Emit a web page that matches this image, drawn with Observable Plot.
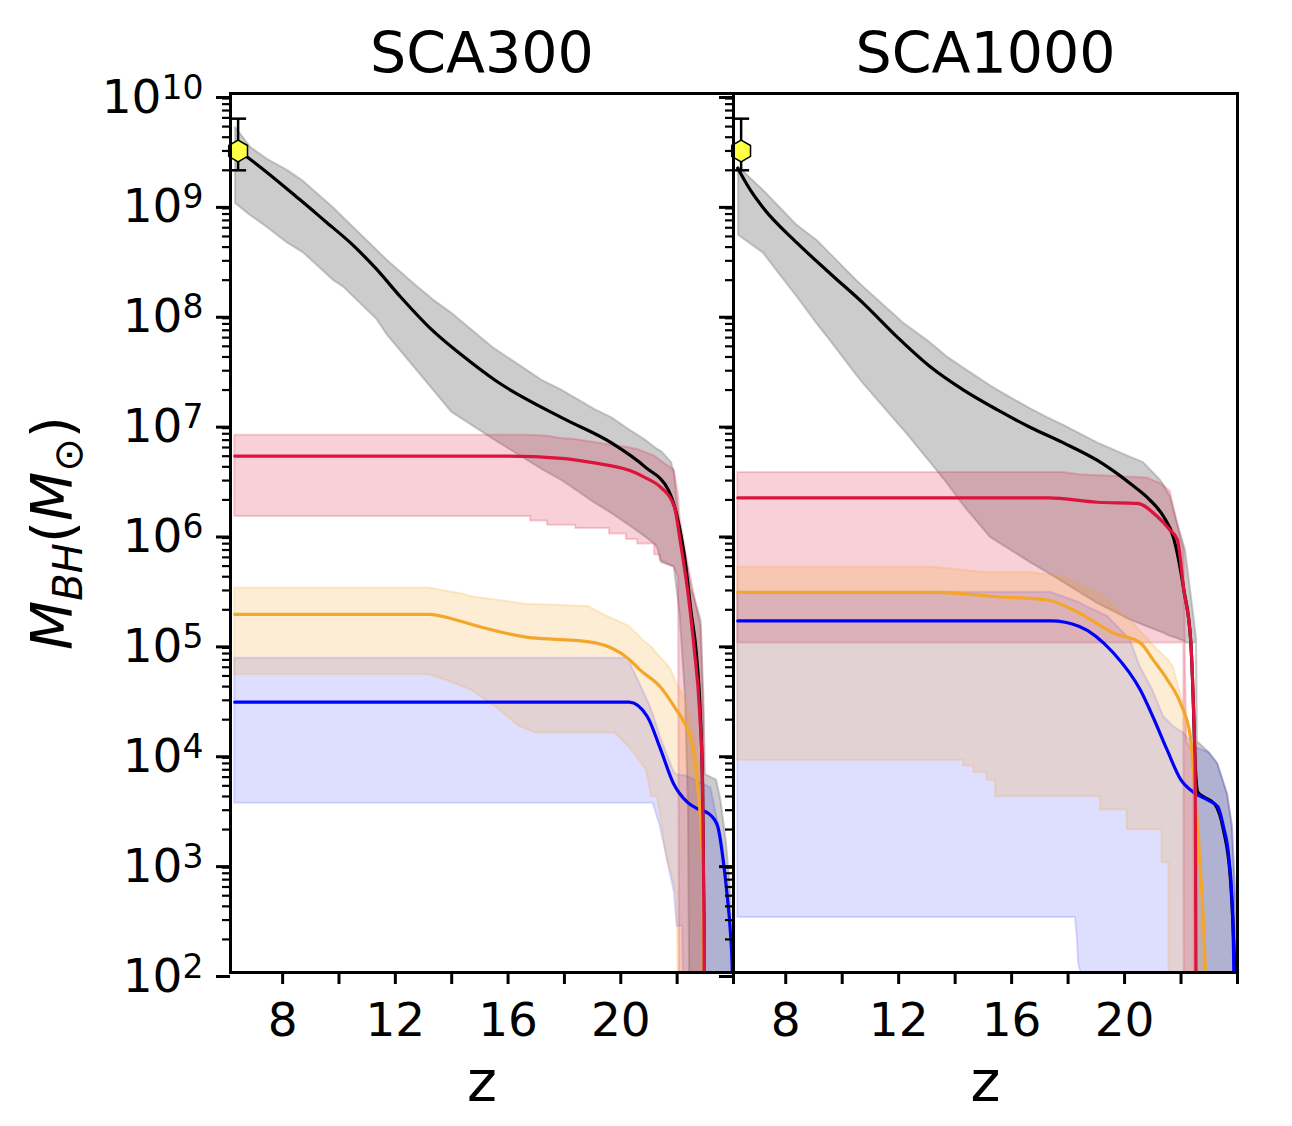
<!DOCTYPE html>
<html>
<head>
<meta charset="utf-8">
<script src="https://cdn.jsdelivr.net/npm/d3@7"></script>
<script src="https://cdn.jsdelivr.net/npm/@observablehq/plot@0.6"></script>
<style>
  body { margin: 0; background: white; }
  #chart { position: relative; width: 1292px; height: 1126px; font-family: "DejaVu Sans", sans-serif; }
  #chart svg { position: absolute; top: 0; }
</style>
</head>
<body>
<div id="chart"></div>
<script>
// ---------- axis / label data ----------
const panelTitles = ["SCA300", "SCA1000"];
const xLabel = "z";
const zTicks = [8, 10, 12, 14, 16, 18, 20, 22, 24];
const zTickLabels = [8, 12, 16, 20];
const yMajorTicks = [1e2, 1e3, 1e4, 1e5, 1e6, 1e7, 1e8, 1e9, 1e10];
const yMinorMultipliers = [2, 3, 4, 5, 6, 7, 8, 9];

// observed quasar (z, M_BH and error range)
const quasarZ = [6.42];
const quasarM = [3.0e9];
const quasarLo = [2.0e9];
const quasarHi = [5.9e9];

// ---------- SCA300 (values are log10 M_BH) ----------
const blackZ300 = [6.42, 6.75, 8.63, 9.5, 10.41, 11.3, 12.18, 13.25, 14.4, 15.54, 17.9, 19.67, 20.87, 21.69, 21.97, 22.29, 22.5, 22.68, 22.82, 22.9, 22.95, 23.0];
const blackM300 = [9.48, 9.42, 9.03, 8.84, 8.64, 8.41, 8.15, 7.86, 7.61, 7.39, 7.05, 6.82, 6.60, 6.39, 6.18, 5.73, 5.27, 4.91, 4.36, 3.7, 2.5, 0];
const grayZ300  = [6.33, 6.86, 7.46, 8.17, 8.74, 9.8, 10.16, 11.36, 11.72, 12.7, 13.35, 14.0, 15.5, 17.2, 17.9, 19.1, 19.67, 20.3, 20.9, 21.2, 21.3, 21.45, 21.8, 21.9, 22.1, 22.3, 22.4, 22.5, 22.6, 22.85, 22.95, 23.0, 23.4, 23.55, 23.75, 23.9, 23.98, 24.0];
const grayHi300 = [9.69, 9.51, 9.40, 9.30, 9.20, 8.96, 8.87, 8.57, 8.48, 8.26, 8.12, 8.0, 7.68, 7.39, 7.30, 7.12, 7.05, 6.94, 6.84, 6.78, 6.76, 6.74, 6.64, 6.55, 6.05, 5.8, 5.65, 5.5, 5.42, 5.2, 4.5, 3.8, 3.75, 3.57, 3.18, 2.73, 2.0, 0];
const grayLo300 = [9.0, 8.89, 8.78, 8.64, 8.55, 8.30, 8.24, 7.94, 7.80, 7.50, 7.30, 7.10, 6.85, 6.58, 6.48, 6.27, 6.18, 6.07, 5.96, 5.90, 5.87, 5.73, 5.70, 5.69, 5.27, 4.5, 3.5, 0, 0, 0, 0, 0, 0, 0, 0, 0, 0, 0];

const redZ300 = [6.3, 16.0, 17.9, 19.0, 20.3, 20.9, 21.4, 21.9, 22.1, 22.4, 22.6, 22.8, 22.9, 22.95, 23.0];
const redM300 = [6.70, 6.70, 6.68, 6.64, 6.57, 6.50, 6.42, 6.24, 5.94, 5.42, 4.96, 4.36, 3.75, 2.5, 0];
const redBandZ300 = [6.3, 16.5, 16.8, 16.8, 17.4, 17.4, 17.9, 18.4, 18.4, 19.6, 19.6, 20.2, 20.2, 20.6, 20.6, 21.2, 21.2, 21.4, 21.4, 21.9, 22.05, 22.1, 22.4, 22.6, 22.85, 22.95, 23.0];
const redLo300 = [6.15, 6.15, 6.15, 6.11, 6.11, 6.07, 6.07, 6.07, 6.04, 6.04, 5.99, 5.99, 5.94, 5.94, 5.90, 5.90, 5.80, 5.80, 5.75, 5.69, 5.60, 0, 0, 0, 0, 0, 0];
const redHi300 = [6.89, 6.89, 6.89, 6.89, 6.88, 6.88, 6.86, 6.85, 6.85, 6.80, 6.80, 6.78, 6.78, 6.76, 6.76, 6.70, 6.70, 6.66, 6.66, 6.57, 6.35, 6.15, 5.7, 5.45, 5.14, 4.3, 0];

const orangeZ300 = [6.3, 13.2, 14.0, 14.95, 16.7, 17.9, 19.1, 20.3, 20.7, 21.4, 22.0, 22.2, 22.57, 22.75, 22.9, 22.95, 23.0];
const orangeM300 = [5.26, 5.26, 5.22, 5.15, 5.05, 5.03, 5.0, 4.85, 4.75, 4.6, 4.38, 4.3, 4.03, 3.64, 3.03, 2.0, 0];
const orangeBandZ300 = [6.3, 13.2, 13.8, 14.3, 14.7, 15.55, 16.4, 16.7, 17.0, 18.85, 19.45, 19.8, 20.3, 20.9, 21.1, 21.3, 21.65, 21.8, 22.0, 22.1, 22.3, 22.6, 22.8, 22.95, 23.0];
const orangeHi300 = [5.50, 5.50, 5.47, 5.45, 5.42, 5.39, 5.36, 5.35, 5.35, 5.33, 5.25, 5.21, 5.15, 5.0, 4.96, 4.9, 4.8, 4.75, 4.62, 4.58, 4.48, 4.2, 3.8, 3.0, 0];
const orangeLo300 = [4.71, 4.71, 4.66, 4.61, 4.57, 4.42, 4.24, 4.21, 4.18, 4.18, 4.18, 4.18, 4.05, 3.85, 3.6, 3.6, 3.03, 2.9, 2.7, 0, 0, 0, 0, 0, 0];

const blueZ300 = [6.3, 20.3, 20.94, 21.4, 21.87, 22.36, 22.72, 23.1, 23.3, 23.45, 23.64, 23.78, 23.89, 23.96, 24.0];
const blueM300 = [4.46, 4.46, 4.33, 4.04, 3.72, 3.55, 3.49, 3.45, 3.4, 3.32, 3.01, 2.69, 2.37, 2.0, 0];
const blueBandZ300 = [6.3, 20.3, 20.4, 21.0, 21.15, 21.4, 21.65, 21.9, 22.0, 22.2, 22.3, 22.4, 23.2, 23.35, 23.6, 23.8, 23.92, 24.0];
const blueHi300 = [4.86, 4.86, 4.78, 4.45, 4.35, 4.15, 3.98, 3.82, 3.80, 3.79, 3.79, 3.78, 3.68, 3.49, 3.2, 2.75, 2.3, 0];
const blueLo300 = [3.54, 3.54, 3.54, 3.54, 3.54, 3.33, 3.03, 2.73, 2.42, 2.42, 0, 0, 0, 0, 0, 0, 0, 0];

// ---------- SCA1000 (values are log10 M_BH) ----------
const blackZ1000 = [6.3, 6.75, 7.2, 8.4, 9.58, 10.75, 11.96, 13.13, 14.3, 15.5, 16.67, 17.84, 19.04, 20.2, 20.9, 21.38, 21.73, 22.1, 22.34, 22.44, 22.5, 22.6, 22.8, 23.2, 23.5, 23.75, 23.85, 23.9, 23.95];
const blackM1000 = [9.32, 9.12, 8.96, 8.64, 8.36, 8.09, 7.78, 7.51, 7.30, 7.12, 6.96, 6.82, 6.66, 6.45, 6.30, 6.15, 5.96, 5.48, 5.03, 4.42, 3.9, 3.64, 3.6, 3.53, 3.3, 2.85, 2.38, 2.0, 0];
const grayZ1000  = [6.33, 7.2, 7.8, 8.4, 9.12, 9.58, 10.5, 10.75, 11.96, 12.17, 13.13, 13.73, 14.3, 15.25, 15.5, 16.67, 17.27, 17.84, 19.04, 20.2, 20.67, 21.27, 21.38, 21.62, 21.87, 22.15, 22.17, 22.44, 22.55, 22.58, 23.0, 23.3, 23.65, 23.82, 23.93, 24.0];
const grayHi1000 = [9.33, 9.12, 8.96, 8.80, 8.66, 8.54, 8.30, 8.24, 7.96, 7.91, 7.73, 7.60, 7.50, 7.34, 7.30, 7.13, 7.05, 6.98, 6.82, 6.69, 6.64, 6.48, 6.44, 6.33, 6.09, 5.85, 5.82, 5.27, 5.03, 4.1, 4.0, 3.9, 3.62, 3.33, 2.73, 0];
const grayLo1000 = [8.71, 8.55, 8.35, 8.15, 7.90, 7.75, 7.44, 7.36, 7.00, 6.94, 6.64, 6.45, 6.25, 5.96, 5.92, 5.73, 5.64, 5.55, 5.36, 5.21, 5.16, 5.10, 5.09, 5.06, 5.04, 5.01, 5.0, 5.0, 5.0, 0, 0, 0, 0, 0, 0, 0];

const redZ1000 = [6.3, 17.3, 19.04, 20.45, 21.16, 21.6, 21.87, 22.1, 22.34, 22.44, 22.5, 22.52, 22.55];
const redM1000 = [6.32, 6.32, 6.28, 6.27, 6.15, 6.03, 5.94, 5.48, 5.03, 4.42, 3.82, 2.5, 0];
const redBandZ1000 = [6.3, 17.84, 18.4, 20.8, 21.27, 21.62, 21.87, 22.1, 22.12, 22.15, 22.2, 22.45, 22.5];
const redHi1000 = [6.55, 6.55, 6.53, 6.50, 6.45, 6.38, 6.09, 5.85, 5.6, 5.0, 4.1, 4.0, 0];
const redLo1000 = [5.0, 5.0, 5.0, 5.0, 5.0, 5.0, 5.0, 5.0, 0, 0, 0, 0, 0];

const orangeZ1000 = [6.3, 13.4, 15.5, 17.27, 18.4, 19.6, 20.56, 21.0, 21.5, 21.98, 22.33, 22.5, 22.62, 22.8, 22.86, 22.9];
const orangeM1000 = [5.46, 5.46, 5.42, 5.39, 5.27, 5.09, 5.0, 4.85, 4.67, 4.45, 4.15, 3.64, 3.18, 2.42, 2.0, 0];
const orangeBandZ1000 = [6.3, 13.1, 14.3, 14.3, 14.66, 14.66, 15.13, 15.13, 15.43, 15.43, 15.5, 16.67, 17.84, 19.04, 19.15, 19.15, 20.09, 20.09, 20.2, 21.16, 21.33, 21.33, 21.57, 21.59, 21.73, 22.08, 22.3, 22.5, 22.7, 22.8, 22.85];
const orangeHi1000 = [5.69, 5.69, 5.66, 5.66, 5.65, 5.65, 5.64, 5.64, 5.64, 5.64, 5.64, 5.64, 5.60, 5.45, 5.44, 5.44, 5.22, 5.22, 5.21, 4.94, 4.9, 4.9, 4.84, 4.83, 4.78, 4.45, 4.2, 3.8, 3.2, 2.5, 0];
const orangeLo1000 = [3.93, 3.93, 3.93, 3.88, 3.88, 3.82, 3.82, 3.75, 3.75, 3.60, 3.60, 3.60, 3.60, 3.60, 3.60, 3.48, 3.48, 3.30, 3.30, 3.30, 3.30, 3.0, 3.0, 0, 0, 0, 0, 0, 0, 0, 0];

const blueZ1000 = [6.3, 17.4, 18.4, 19.6, 20.56, 21.0, 21.5, 21.98, 22.44, 22.94, 23.3, 23.5, 23.7, 23.82, 23.87, 23.92];
const blueM1000 = [5.2, 5.2, 5.15, 4.91, 4.57, 4.33, 4.03, 3.76, 3.64, 3.57, 3.51, 3.33, 3.03, 2.57, 2.0, 0];
const blueBandZ1000 = [6.3, 17.4, 18.26, 18.33, 18.37, 18.45, 18.5, 19.4, 20.2, 20.56, 21.0, 21.38, 21.73, 22.08, 22.5, 23.0, 23.3, 23.65, 23.82, 23.93, 24.0];
const blueHi1000 = [5.46, 5.46, 5.38, 5.37, 5.37, 5.36, 5.35, 5.24, 5.03, 4.78, 4.57, 4.33, 4.24, 4.18, 4.05, 4.0, 3.9, 3.62, 3.33, 2.73, 0];
const blueLo1000 = [2.5, 2.5, 2.5, 2.3, 2.08, 2.0, 0, 0, 0, 0, 0, 0, 0, 0, 0, 0, 0, 0, 0, 0, 0];

// ---------- helpers ----------
const FONT = "DejaVu Sans";
const COL = {black: "black", gray: "gray", red: "crimson", orange: "#f4a62a", blue: "blue"};

const toLine = (z, m) => z.map((d, i) => ({z: d, m: Math.pow(10, m[i])}));
const toBand = (z, lo, hi) => z.map((d, i) => ({z: d, lo: Math.pow(10, lo[i]), hi: Math.pow(10, hi[i])}));
const quasar = quasarZ.map((z, i) => ({z, m: quasarM[i], lo: quasarLo[i], hi: quasarHi[i]}));
const quasarCaps = quasar.flatMap(d => [{z: d.z, v: d.lo}, {z: d.z, v: d.hi}]);
const yMinorTicks = yMajorTicks.slice(0, -1).flatMap(t => yMinorMultipliers.map(k => k * t));

const capSymbol = {
  draw(context, size) {
    const w = Math.sqrt(size / Math.PI);
    context.moveTo(-w, 0);
    context.lineTo(w, 0);
  }
};

function bandMark(data, color, opacity) {
  return Plot.areaY(data, {
    x: "z", y1: "lo", y2: "hi", fill: color, fillOpacity: opacity,
    stroke: color, strokeOpacity: opacity, strokeWidth: 2, clip: true
  });
}
function lineMark(data, color) {
  return Plot.line(data, {x: "z", y: "m", stroke: color, strokeWidth: 3.2, curve: "monotone-x", clip: true});
}

function panel(p) {
  return Plot.plot({
    width: p.width, height: 1126,
    marginLeft: p.marginLeft, marginRight: p.marginRight, marginTop: 93, marginBottom: 154,
    style: {background: "transparent", overflow: "visible", fontFamily: FONT},
    x: {domain: [6.15, 24], label: null},
    y: {type: "log", domain: [1e2, 1e10], label: null},
    marks: [
      bandMark(p.gray, COL.gray, 0.4),
      bandMark(p.redBand, COL.red, 0.2),
      bandMark(p.blueBand, COL.blue, 0.13),
      bandMark(p.orangeBand, COL.orange, 0.2),
      lineMark(p.black, COL.black),
      lineMark(p.blue, COL.blue),
      lineMark(p.orange, COL.orange),
      lineMark(p.red, COL.red),
      Plot.ruleX(quasar, {x: "z", y1: "lo", y2: "hi", stroke: "black", strokeWidth: 2.5}),
      Plot.dot(quasarCaps, {x: "z", y: "v", symbol: capSymbol, r: 8, stroke: "black", strokeWidth: 2.5}),
      Plot.dot(quasar, {x: "z", y: "m", symbol: "hexagon", r: 9.4, fill: "#ffff44", stroke: "black", strokeWidth: 1.5}),
      Plot.frame({stroke: "black", strokeWidth: 3}),
      Plot.axisY({ticks: yMajorTicks, tickSize: 14, tickPadding: 13, strokeWidth: 3, fontSize: 47, dy: 4,
        tickFormat: d => p.showY ? "10^" + Math.round(Math.log10(d)) : ""}),
      Plot.axisY({ticks: yMinorTicks, tickSize: 8, strokeWidth: 2.2, tickFormat: () => ""}),
      Plot.axisX({ticks: zTicks, tickSize: 12, tickPadding: 18, strokeWidth: 3, fontSize: 47,
        tickFormat: d => zTickLabels.includes(d) ? String(d) : ""}),
      Plot.text([p.title], {frameAnchor: "top", dy: -39, fontSize: 57, lineAnchor: "middle", fill: "black"}),
      Plot.text([xLabel], {frameAnchor: "bottom", dy: 110, fontSize: 57, lineAnchor: "middle", fill: "black"})
    ]
  });
}

const left = panel({
  title: panelTitles[0], width: 740, marginLeft: 230, marginRight: 7, showY: true,
  black: toLine(blackZ300, blackM300), gray: toBand(grayZ300, grayLo300, grayHi300),
  red: toLine(redZ300, redM300), redBand: toBand(redBandZ300, redLo300, redHi300),
  orange: toLine(orangeZ300, orangeM300), orangeBand: toBand(orangeBandZ300, orangeLo300, orangeHi300),
  blue: toLine(blueZ300, blueM300), blueBand: toBand(blueBandZ300, blueLo300, blueHi300)
});
const right = panel({
  title: panelTitles[1], width: 592, marginLeft: 33, marginRight: 55, showY: false,
  black: toLine(blackZ1000, blackM1000), gray: toBand(grayZ1000, grayLo1000, grayHi1000),
  red: toLine(redZ1000, redM1000), redBand: toBand(redBandZ1000, redLo1000, redHi1000),
  orange: toLine(orangeZ1000, orangeM1000), orangeBand: toBand(orangeBandZ1000, orangeLo1000, orangeHi1000),
  blue: toLine(blueZ1000, blueM1000), blueBand: toBand(blueBandZ1000, blueLo1000, blueHi1000)
});
left.style.left = "0px";
right.style.left = "700px";

const chart = document.getElementById("chart");
chart.appendChild(left);
chart.appendChild(right);

// superscript exponents on the y tick labels
d3.select(left).selectAll('[aria-label="y-axis tick label"] text').each(function() {
  const t = this.textContent;
  if (!t.includes("^")) return;
  const [base, exp] = t.split("^");
  const sel = d3.select(this);
  sel.text(null);
  sel.append("tspan").text(base);
  sel.append("tspan").attr("dy", -14).attr("font-size", 33).text(exp);
});

// y axis label  M_BH(M_⊙)
const yl = d3.select(left).append("text")
  .attr("transform", "translate(72,533) rotate(-90)")
  .attr("text-anchor", "middle")
  .attr("font-family", FONT)
  .attr("font-size", 57)
  .attr("fill", "black");
yl.append("tspan").attr("font-style", "italic").text("M");
yl.append("tspan").attr("font-style", "italic").attr("font-size", 40).attr("dy", 10).text("BH");
yl.append("tspan").attr("dy", -10).text("(");
yl.append("tspan").attr("font-style", "italic").text("M");
yl.append("tspan").attr("font-size", 40).attr("dy", 10).text("\u2299");
yl.append("tspan").attr("dy", -10).text(")");
</script>
</body>
</html>
